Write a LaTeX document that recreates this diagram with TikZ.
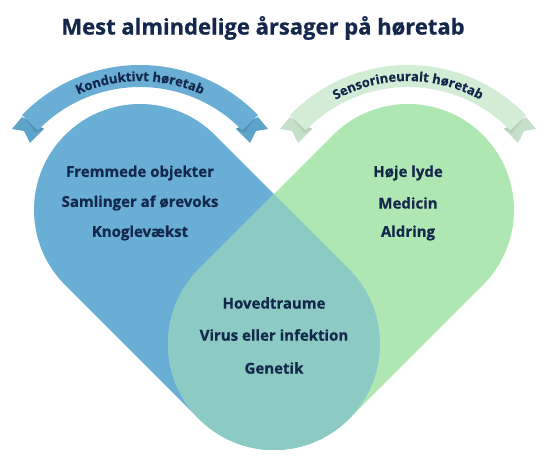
\documentclass[tikz,border=0pt]{standalone}
\usepackage{fontspec}
\setmainfont{Open Sans}[BoldFeatures={FakeBold=0.6}]
\usetikzlibrary{decorations.text}
\definecolor{navy}{HTML}{14284B}
\definecolor{pillBlue}{HTML}{69AED5}
\definecolor{pillGreen}{HTML}{AEE7B2}
\definecolor{pillTeal}{HTML}{8BCBC3}
\definecolor{bandBlue}{HTML}{6AAED6}
\definecolor{tailBlue}{HTML}{5EA3CA}
\definecolor{foldBlue}{HTML}{5193B8}
\definecolor{bandGreen}{HTML}{D3ECD5}
\definecolor{tailGreen}{HTML}{C6DFC8}
\definecolor{foldGreen}{HTML}{B6D0B8}
\newcommand\bannerfont{\bfseries\fontsize{13}{13}\selectfont}

\begin{document}
\begin{tikzpicture}[x=1pt, y=1pt,
      cause/.style={font=\bfseries\fontsize{15}{16}\selectfont, text=navy, inner sep=0pt},
      heading/.style={font=\bfseries\fontsize{22}{24}\selectfont, text=navy, inner sep=0pt}]
    \path[use as bounding box, fill=white] (0,0) rectangle (548,464);
    \coordinate (topL) at (140,254);
    \coordinate (topR) at (408,254);
    \coordinate (bottom) at (274,120);
    \coordinate (arcL) at (140,235);
    \coordinate (arcR) at (408,235);
    % title
    \node[heading] (title) at (263,436) {Mest almindelige årsager på høretab};
    % left ribbon
    \begin{scope}
      \foreach \flip in {1,-1} {
        \begin{scope}[shift={(140,0)}, xscale=\flip, shift={(-140,0)}]
          \fill[tailBlue] (22,347) -- (12,335) -- (24,333) -- (30,321) -- (44,335) -- cycle;
          \fill[foldBlue] (24,346) -- (44,335) -- (36,331) -- cycle;
        \end{scope}
      }
      \fill[bandBlue] (arcL) ++(136:164) arc[start angle=136, end angle=44, radius=164]
        -- ++(224:22) arc[start angle=44, end angle=136, radius=142] -- cycle;
      \path[decorate, decoration={text along path, text align=center, text color=navy,
          text={|\bannerfont|Konduktivt høretab}}]
        (arcL) ++(136:148) arc[start angle=136, end angle=44, radius=148];
    \end{scope}
    % right ribbon
    \begin{scope}
      \foreach \flip in {1,-1} {
        \begin{scope}[shift={(408,0)}, xscale=\flip, shift={(-140,0)}]
          \fill[tailGreen] (22,347) -- (12,335) -- (24,333) -- (30,321) -- (44,335) -- cycle;
          \fill[foldGreen] (24,346) -- (44,335) -- (36,331) -- cycle;
        \end{scope}
      }
      \fill[bandGreen] (arcR) ++(136:164) arc[start angle=136, end angle=44, radius=164]
        -- ++(224:22) arc[start angle=44, end angle=136, radius=142] -- cycle;
      \path[decorate, decoration={text along path, text align=center, text color=navy,
          text={|\bannerfont|Sensorineuralt høretab}}]
        (arcR) ++(136:148) arc[start angle=136, end angle=44, radius=148];
    \end{scope}
    % the two pills
    \fill[pillBlue] (topL) ++(45:106) arc[start angle=45, end angle=225, radius=106]
      -- ++(134,-134) arc[start angle=225, end angle=405, radius=106] -- cycle;
    \fill[pillGreen] (topR) ++(135:106) arc[start angle=135, end angle=-45, radius=106]
      -- ++(-134,-134) arc[start angle=-45, end angle=-225, radius=106] -- cycle;
    % overlap
    \begin{scope}
      \clip (topL) ++(45:106) arc[start angle=45, end angle=225, radius=106]
        -- ++(134,-134) arc[start angle=225, end angle=405, radius=106] -- cycle;
      \fill[pillTeal] (topR) ++(135:106) arc[start angle=135, end angle=-45, radius=106]
        -- ++(-134,-134) arc[start angle=-45, end angle=-225, radius=106] -- cycle;
    \end{scope}
    % causes
    \node[cause] (fremmede) at (140,291) {Fremmede objekter};
    \node[cause] (orevoks) at (140,261) {Samlinger af ørevoks};
    \node[cause] (knogle) at (140,231) {Knoglevækst};
    \node[cause] (lyde) at (408,291) {Høje lyde};
    \node[cause] (medicin) at (408,261) {Medicin};
    \node[cause] (aldring) at (408,231) {Aldring};
    \node[cause] (traume) at (274,161) {Hovedtraume};
    \node[cause] (virus) at (274,129) {Virus eller infektion};
    \node[cause] (genetik) at (274,96) {Genetik};
  \end{tikzpicture}
\end{document}
